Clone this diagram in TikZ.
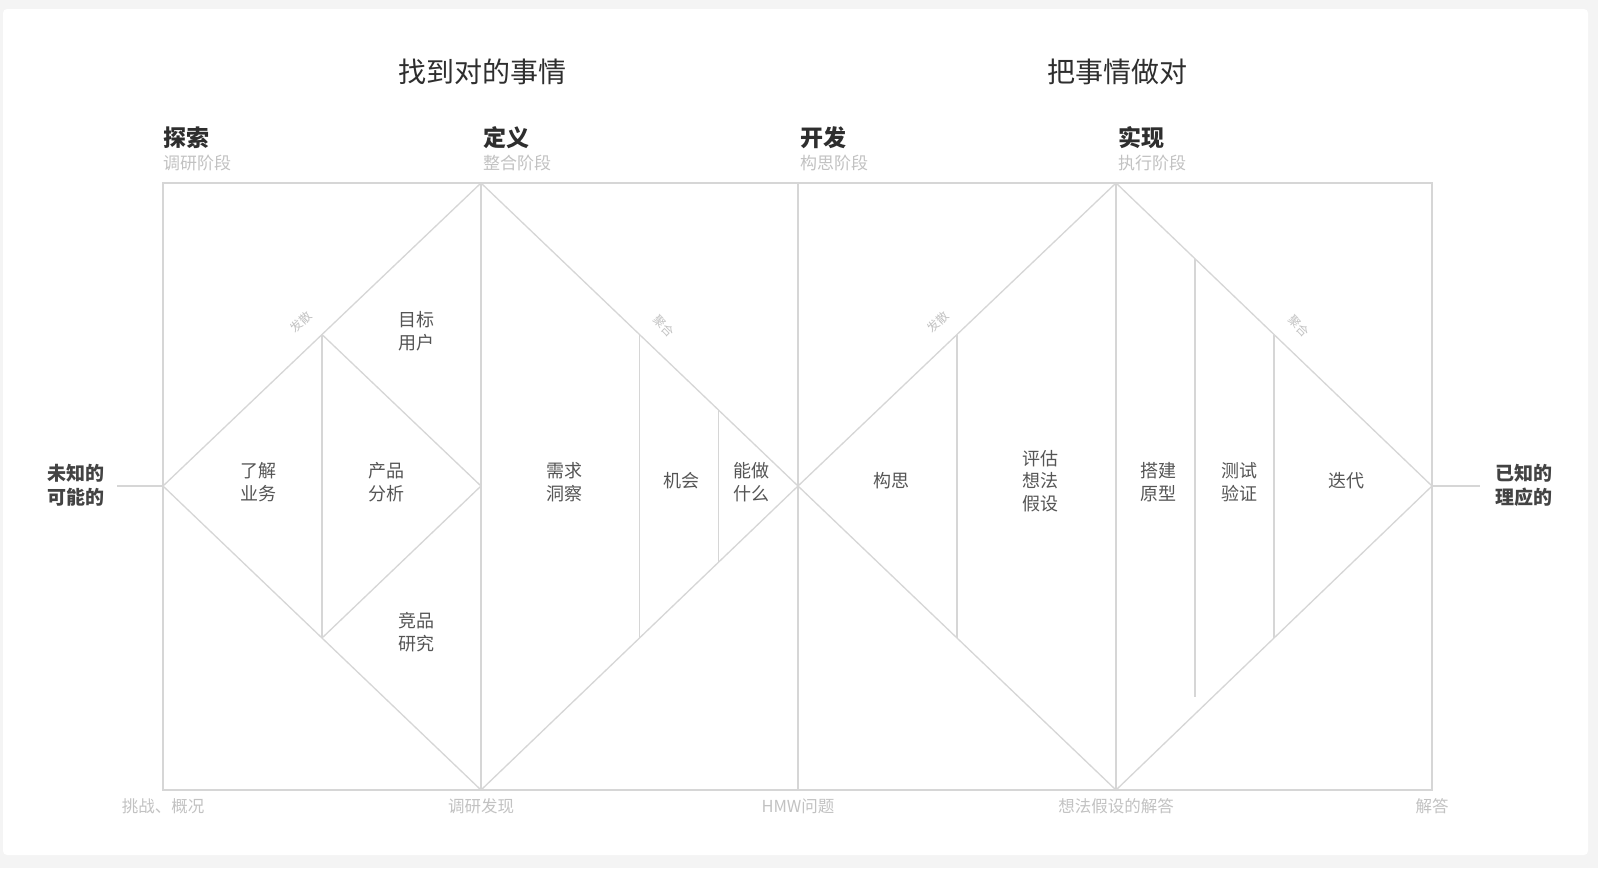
\documentclass[tikz,border=0pt]{standalone}
\usepackage{fontspec}
\setmainfont{Noto Sans CJK SC}
\usetikzlibrary{calc}

\definecolor{linegray}{HTML}{D6D6D6}
\definecolor{softgray}{HTML}{C2C2C2}
\definecolor{darktext}{HTML}{2E2E2E}
\definecolor{midtext}{HTML}{555555}

\begin{document}
\begin{tikzpicture}[
    x=1pt, y=-1pt,
    % estilos
    line/.style={draw=linegray, line width=1.3pt},
    heading/.style={font=\fontsize{28}{32}\selectfont, text=darktext},
    stage/.style={anchor=west, inner sep=0pt, font=\fontsize{23}{26}\selectfont\bfseries, text=darktext},
    sub/.style={anchor=west, inner sep=0pt, font=\fontsize{17}{19}\selectfont, text=softgray},
    lbl/.style={align=center, font=\fontsize{18}{22.5}\selectfont, text=midtext},
    side/.style={align=center, font=\fontsize{19}{24}\selectfont\bfseries, text=darktext!90},
    tilt/.style={inner sep=0pt, font=\fontsize{12}{14}\selectfont, text=softgray},
    foot/.style={font=\fontsize{16.5}{18}\selectfont, text=softgray}
]

% --- FONDO ---
\useasboundingbox (0,0) rectangle (1598,868);
\fill[gray!9] (0,0) rectangle (1598,868);
\fill[white, rounded corners=4pt] (3,9) rectangle (1588,855);

% --- TITULOS ---
\node[heading] (find) at (482,72) {找到对的事情};
\node[heading] (doit) at (1117,72) {把事情做对};

\node[stage] (s1) at (163,138) {探索};
\node[sub] (p1) at (163,163) {调研阶段};
\node[stage] (s2) at (483,138) {定义};
\node[sub] (p2) at (483,163) {整合阶段};
\node[stage] (s3) at (800,138) {开发};
\node[sub] (p3) at (800,163) {构思阶段};
\node[stage] (s4) at (1118,138) {实现};
\node[sub] (p4) at (1118,163) {执行阶段};

% --- MARCO Y DIAMANTES ---
\coordinate (tl) at (163,183);
\coordinate (br) at (1432,790);
\coordinate (A) at (163,486);
\coordinate (B) at (481,183);
\coordinate (C) at (481,790);
\coordinate (m1) at (481,486);
\coordinate (D) at (798,486);
\coordinate (Dt) at (798,183);
\coordinate (Db) at (798,790);
\coordinate (E) at (1116,183);
\coordinate (F) at (1116,790);
\coordinate (G) at (1432,486);

\draw[line] (tl) rectangle (br);
\draw[line] (B) -- (C);
\draw[line] (Dt) -- (Db);
\draw[line] (E) -- (F);

\draw[line] (A) -- (B) -- (D) -- (C) -- cycle;
\draw[line] (D) -- (E) -- (G) -- (F) -- cycle;

% divisiones internas
\draw[line] ($(A)!0.5!(B)$) -- ($(A)!0.5!(C)$);
\draw[line] ($(A)!0.5!(B)$) -- (m1) -- ($(A)!0.5!(C)$);
\draw[line] ($(B)!0.5!(D)$) -- ($(C)!0.5!(D)$);
\draw[line] ($(B)!0.75!(D)$) -- ($(C)!0.75!(D)$);
\draw[line] ($(D)!0.5!(E)$) -- ($(D)!0.5!(F)$);
\draw[line] ($(E)!0.25!(G)$) -- ++(0,438);
\draw[line] ($(E)!0.5!(G)$) -- ($(F)!0.5!(G)$);

% entradas y salidas
\coordinate (inL) at (117,486);
\coordinate (outR) at (1480,486);
\draw[line] (inL) -- (A);
\draw[line] (G) -- (outR);

\node[side] (unknown) at (76,485) {未知的\\可能的};
\node[side] (known) at (1524,485) {已知的\\理应的};

% --- ETIQUETAS ---
\node[lbl] (biz) at (258,482) {了解\\业务};
\node[lbl] (prod) at (386,482) {产品\\分析};
\node[lbl] (user) at (416,331) {目标\\用户};
\node[lbl] (comp) at (416,632) {竞品\\研究};
\node[lbl] (need) at (564,482) {需求\\洞察};
\node[lbl] (chance) at (681,481) {机会};
\node[lbl] (cando) at (751,482) {能做\\什么};
\node[lbl] (idea) at (891,481) {构思};
\node[lbl] (judge) at (1040,481) {评估\\想法\\假设};
\node[lbl] (proto) at (1158,482) {搭建\\原型};
\node[lbl] (test) at (1239,482) {测试\\验证};
\node[lbl] (iter) at (1346,481) {迭代};

\node[tilt, rotate=45] (div1) at (301,322) {发散};
\node[tilt, rotate=-45] (con1) at (664,326) {聚合};
\node[tilt, rotate=45] (div2) at (938,322) {发散};
\node[tilt, rotate=-45] (con2) at (1299,326) {聚合};

% --- PIE ---
\node[foot] (f1) at (163,806) {挑战、概况};
\node[foot] (f2) at (481,806) {调研发现};
\node[foot] (f3) at (798,806) {HMW问题};
\node[foot] (f4) at (1116,806) {想法假设的解答};
\node[foot] (f5) at (1432,806) {解答};

\end{tikzpicture}
\end{document}
